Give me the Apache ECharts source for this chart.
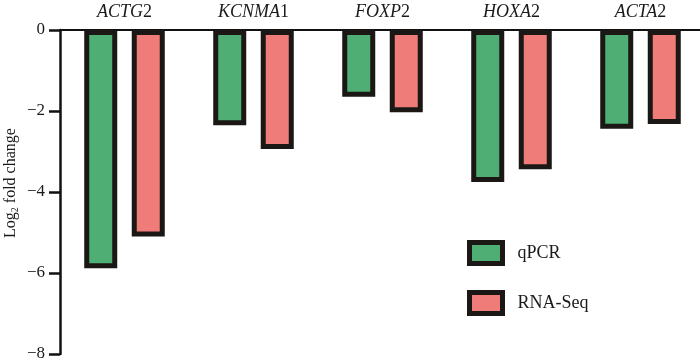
<!DOCTYPE html>
<html>
<head>
<meta charset="utf-8">
<script src="https://cdn.jsdelivr.net/npm/echarts@6/dist/echarts.min.js"></script>
<style>
  html, body { margin: 0; padding: 0; background: #fff; }
  #chart { width: 700px; height: 363px; }
</style>
</head>
<body>
<div id="chart"></div>
<script>
// gene name (italic part) + digit (upright part)
var geneNames = ['ACTG', 'KCNMA', 'FOXP', 'HOXA', 'ACTA']
var geneNums = ['2', '1', '2', '2', '2']
var qpcrValues = [-5.88, -2.35, -1.65, -3.75, -2.44]
var rnaSeqValues = [-5.10, -2.94, -2.03, -3.44, -2.32]
var yTicks = [0, -2, -4, -6, -8]

var categories = geneNames.map(function (g, i) { return g + geneNums[i] })

var chart = echarts.init(document.getElementById('chart'), null, { renderer: 'canvas' })

var serif = '"Liberation Serif", "DejaVu Serif", serif'
var border = '#1a1714'

chart.setOption({
  animation: false,
  textStyle: { fontFamily: serif, color: '#1a1a1a' },
  grid: { left: 60, right: -5, top: 30, bottom: 9, containLabel: false, outerBoundsMode: 'none' },
  legend: {
    orient: 'vertical',
    left: 462,
    top: 235,
    itemWidth: 33,
    itemHeight: 21,
    itemGap: 24,
    icon: 'rect',
    itemStyle: { borderColor: border, borderWidth: 5 },
    textStyle: { fontFamily: serif, fontSize: 18, color: '#1a1a1a', padding: [0, 0, 0, 10] },
    data: ['qPCR', 'RNA-Seq']
  },
  xAxis: {
    type: 'category',
    position: 'top',
    data: categories,
    axisLine: { lineStyle: { color: '#111', width: 2 } },
    axisTick: { show: false },
    axisLabel: {
      margin: 9,
      formatter: function (v, i) {
        return '{it|' + geneNames[i] + '}{n|' + geneNums[i] + '}'
      },
      rich: {
        it: { fontFamily: serif, fontStyle: 'italic', fontSize: 18, color: '#1a1a1a' },
        n: { fontFamily: serif, fontSize: 18, color: '#1a1a1a' }
      }
    }
  },
  yAxis: {
    type: 'value',
    min: -8,
    max: 0,
    interval: 2,
    name: '{a|Log}{s|2}{a| fold change}',
    nameLocation: 'middle',
    nameGap: 40,
    nameMoveOverlap: false,
    nameRotate: 90,
    nameTextStyle: {
      padding: [0, 0, 0, 18],
      rich: {
        a: { fontFamily: serif, fontSize: 16, color: '#1a1a1a' },
        s: { fontFamily: serif, fontSize: 10, color: '#1a1a1a', padding: [8, 0, 0, 0] }
      }
    },
    axisLine: { show: true, lineStyle: { color: '#111', width: 2.5 } },
    axisTick: { show: true, length: 11, lineStyle: { color: '#111', width: 2.5 } },
    axisLabel: {
      margin: 15,
      fontFamily: serif,
      fontSize: 17,
      color: '#1a1a1a',
      formatter: function (v) {
        if (yTicks.indexOf(v) < 0) return ''
        return v < 0 ? '\u2212' + Math.abs(v) : String(v)
      }
    },
    splitLine: { show: false }
  },
  series: [{
    name: 'qPCR',
    type: 'bar',
    data: qpcrValues,
    barWidth: 33,
    barGap: '44%',
    itemStyle: { color: '#4fae74', borderColor: border, borderWidth: 5 }
  }, {
    name: 'RNA-Seq',
    type: 'bar',
    data: rnaSeqValues,
    barWidth: 33,
    barGap: '44%',
    itemStyle: { color: '#f07c7a', borderColor: border, borderWidth: 5 }
  }]
})
</script>
</body>
</html>
